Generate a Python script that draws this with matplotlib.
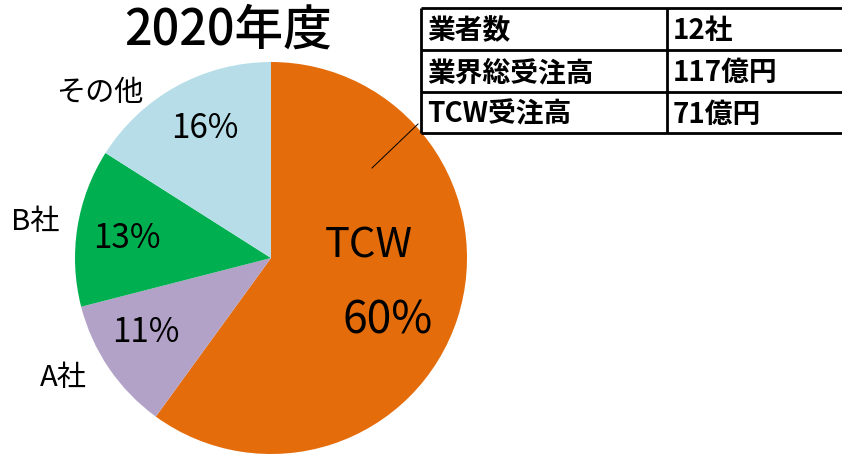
import matplotlib.pyplot as plt

plt.rcParams['font.family'] = ['Noto Sans CJK JP', 'DejaVu Sans']

title = '2020年度'
labels = ['TCW', 'A社', 'B社', 'その他']
shares = [60, 11, 13, 16]
colors = ['#E46C0A', '#B3A2C7', '#00B050', '#B7DEE8']

table_keys = ['業者数', '業界総受注高', 'TCW受注高']
table_vals = ['12社', '117億円', '71億円']

W, H = 842, 457
fig = plt.figure(figsize=(W / 100, H / 100), dpi=100)
ax = fig.add_axes([0, 0, 1, 1])

def Y(y):
    # pixel row -> data y
    return H - y

cx, cy, r = 271, 258, 196
ax.pie(shares, colors=colors, startangle=90, counterclock=False,
       center=(cx, Y(cy)), radius=r, frame=True)
ax.set_xlim(0, W)
ax.set_ylim(0, H)
ax.set_aspect('equal')
ax.axis('off')

ax.text(228, Y(31), title, fontsize=35, fontweight='medium', ha='center', va='center')

# labels (outer name, inner percentage)
name_pos = [(369, 246), (63, 378), (35, 222), (100, 93)]
pct_pos = [(388, 320), (146, 333), (127, 238), (205, 129)]
for i, lab in enumerate(labels):
    if i == 0:
        ax.text(name_pos[i][0], Y(name_pos[i][1]), lab, fontsize=30, ha='center', va='center')
        ax.text(pct_pos[i][0], Y(pct_pos[i][1]), f'{shares[i]}%', fontsize=32, ha='center', va='center')
    else:
        ax.text(name_pos[i][0], Y(name_pos[i][1]), lab, fontsize=21, ha='center', va='center')
        ax.text(pct_pos[i][0], Y(pct_pos[i][1]), f'{shares[i]}%', fontsize=24, ha='center', va='center')

# leader line to the table
ax.plot([372, 418], [Y(168), Y(124)], color='black', lw=0.7)

# table
x0, x1, x2 = 421, 667, 842
rows_y = [8, 50, 92, 133]
ax.add_patch(plt.Rectangle((x0, Y(rows_y[-1])), x2 - x0 + 5, rows_y[-1] - rows_y[0],
                           facecolor='white', edgecolor='none', zorder=3))
for y in rows_y:
    ax.plot([x0, x2 + 5], [Y(y), Y(y)], color='black', lw=2, zorder=4, solid_capstyle='butt')
for x in [x0, x1]:
    ax.plot([x, x], [Y(rows_y[0]), Y(rows_y[-1])], color='black', lw=2, zorder=4, solid_capstyle='butt')
for i in range(3):
    yc = (rows_y[i] + rows_y[i + 1]) / 2 + 2
    ax.text(x0 + 6, Y(yc), table_keys[i], fontsize=20, fontweight='bold', ha='left', va='center', zorder=5)
    ax.text(x1 + 6, Y(yc), table_vals[i], fontsize=20, fontweight='bold', ha='left', va='center', zorder=5)

fig.savefig('out.png', dpi=100)
